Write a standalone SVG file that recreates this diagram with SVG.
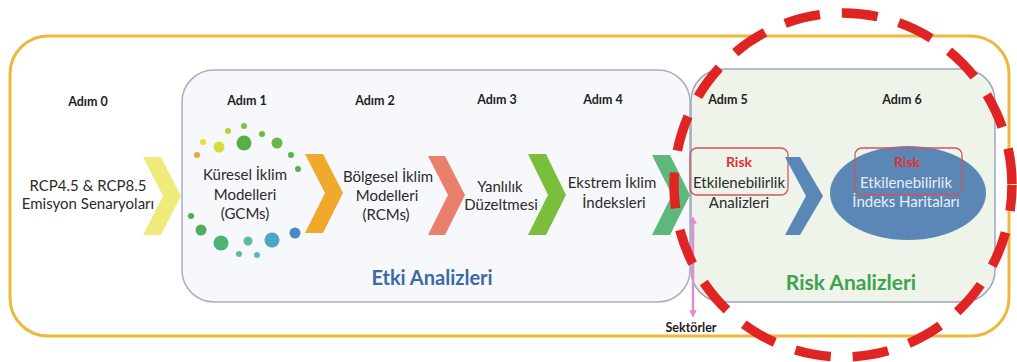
<svg xmlns="http://www.w3.org/2000/svg" width="1017" height="362" viewBox="0 0 1017 362">
  <style>
    .step { font-family: Lato, "Liberation Sans", sans-serif; font-weight: bold; font-size: 12.5px; fill: #1e1e1e; text-anchor: middle; }
    .body { font-family: Lato, "Liberation Sans", sans-serif; font-size: 15px; fill: #2b2b2b; text-anchor: middle; }
    .risk { font-family: Lato, "Liberation Sans", sans-serif; font-weight: bold; font-size: 14px; fill: #e03232; text-anchor: middle; }
    .light { fill: #e8eef6; }
    .title { font-family: Lato, "Liberation Sans", sans-serif; font-weight: bold; text-anchor: middle; }
    .tag { fill: none; stroke: #d4545c; stroke-width: 1.3; }
  </style>
  <defs>
    <marker id="pinkHead" viewBox="0 0 10 10" refX="5" refY="5" markerWidth="3" markerHeight="3" orient="auto-start-reverse">
      <path d="M0,0 L10,5 L0,10 z" fill="#da8fd0"/>
    </marker>
  </defs>

  <rect width="1017" height="362" fill="#ffffff"/>

  <!-- outer frame -->
  <rect id="frame" x="10" y="36" width="999" height="300" rx="38" fill="none" stroke="#edb83c" stroke-width="3"/>

  <!-- impact analysis panel -->
  <g id="etki-panel">
    <rect x="182" y="70" width="508" height="232" rx="32" fill="#f6f8fc" stroke="#a9aec0" stroke-width="1.5"/>
    <text class="title" x="432" y="285" font-size="20" fill="#3a6aa8">Etki Analizleri</text>
  </g>

  <!-- risk analysis panel -->
  <g id="risk-panel">
    <rect x="691" y="69" width="304" height="233" rx="32" fill="#eef4ea" stroke="#a0a6bc" stroke-width="1.5"/>
    <text class="title" x="851" y="290" font-size="21" fill="#3fa34d">Risk Analizleri</text>
  </g>

  <!-- step 0 -->
  <g id="step0">
    <text class="step" x="88" y="106">Adım 0</text>
    <text class="body" x="88" y="191" font-size="13.5">RCP4.5 &amp; RCP8.5</text>
    <text class="body" x="88" y="209" font-size="13.5">Emisyon Senaryoları</text>
  </g>

  <!-- step 1 -->
  <g id="step1">
    <text class="step" x="247" y="105">Adım 1</text>
    <g id="gcm-dots">
      <circle cx="244" cy="126" r="3" fill="#7dc242"/>
      <circle cx="228" cy="131" r="3" fill="#b5d334"/>
      <circle cx="262" cy="134" r="3" fill="#6cbb45"/>
      <circle cx="244" cy="143" r="7.5" fill="#5aaf44"/>
      <circle cx="219" cy="147" r="5.5" fill="#d6dc3a"/>
      <circle cx="203" cy="142" r="3" fill="#e9de3c"/>
      <circle cx="277" cy="143" r="5.5" fill="#6db548"/>
      <circle cx="197" cy="155" r="3" fill="#eda63a"/>
      <circle cx="291" cy="155" r="3" fill="#5db24b"/>
      <circle cx="298" cy="169" r="3" fill="#55b04e"/>
      <circle cx="191" cy="216" r="3" fill="#4fae53"/>
      <circle cx="201" cy="230" r="5.5" fill="#4daf5c"/>
      <circle cx="221" cy="243" r="7.5" fill="#4db273"/>
      <circle cx="239" cy="254" r="3" fill="#5dbba0"/>
      <circle cx="248" cy="241" r="4.5" fill="#5abba5"/>
      <circle cx="257" cy="255" r="3" fill="#60b8b5"/>
      <circle cx="272" cy="240" r="7.5" fill="#4ba6c2"/>
      <circle cx="295" cy="233" r="5.5" fill="#4a8cbf"/>
    </g>
    <text class="body" x="245" y="180">Küresel İklim</text>
    <text class="body" x="245" y="200">Modelleri</text>
    <text class="body" x="245" y="219">(GCMs)</text>
  </g>

  <!-- step 2 -->
  <g id="step2">
    <text class="step" x="375" y="105">Adım 2</text>
    <text class="body" x="388" y="182">Bölgesel İklim</text>
    <text class="body" x="387" y="201">Modelleri</text>
    <text class="body" x="386" y="220">(RCMs)</text>
  </g>

  <!-- step 3 -->
  <g id="step3">
    <text class="step" x="497" y="104">Adım 3</text>
    <text class="body" x="500" y="192">Yanlılık</text>
    <text class="body" x="501" y="210">Düzeltmesi</text>
  </g>

  <!-- step 4 -->
  <g id="step4">
    <text class="step" x="603" y="104">Adım 4</text>
    <text class="body" x="612" y="188">Ekstrem İklim</text>
    <text class="body" x="614" y="208">İndeksleri</text>
  </g>

  <!-- step 5 -->
  <g id="step5">
    <text class="step" x="728" y="104">Adım 5</text>
    <rect class="tag" x="690" y="148" width="98" height="47" rx="7"/>
    <text class="risk" x="739" y="167">Risk</text>
    <text class="body" x="739" y="188">Etkilenebilirlik</text>
    <text class="body" x="739" y="208">Analizleri</text>
  </g>

  <!-- step 6 -->
  <g id="step6">
    <text class="step" x="902" y="104">Adım 6</text>
    <ellipse cx="908" cy="193" rx="78" ry="47" fill="#5b87b6"/>
    <rect class="tag" x="855" y="148" width="107" height="47" rx="7"/>
    <text class="risk" x="907" y="167">Risk</text>
    <text class="body light" x="906" y="188">Etkilenebilirlik</text>
    <text class="body light" x="906" y="207">İndeks Haritaları</text>
  </g>

  <!-- sector label -->
  <g id="sectors">
    <text class="step" x="691" y="332" font-size="12">Sektörler</text>
  </g>

  <!-- connectors: step chevrons and sector link -->
  <g id="connectors">
    <polygon points="143,157 161,157 181,196 161,235 143,235 163,196" fill="#efeb7a"/>
    <polygon points="305,154 323,154 343,193 323,233 305,233 325,193" fill="#efaa2c"/>
    <polygon points="428,156 445,156 465,195 445,235 428,235 448,195" fill="#e8806c"/>
    <polygon points="528,154 546,154 566,195 546,235 528,235 548,195" fill="#7bbe3c"/>
    <polygon points="652,155 670,155 690,195 670,235 652,235 672,195" fill="#5db87c"/>
    <polygon points="785,157 800,157 823,196 800,235 785,235 806,196" fill="#5b87b6"/>
    <line x1="693" y1="220" x2="693" y2="314" stroke="#da8fd0" stroke-width="2.5" marker-start="url(#pinkHead)" marker-end="url(#pinkHead)"/>
  </g>

  <!-- highlight ring around the risk stage -->
  <ellipse id="highlight" cx="843" cy="185" rx="169" ry="172" fill="none" stroke="#e02424" stroke-width="9.5" stroke-dasharray="36 22" stroke-dashoffset="10"/>
</svg>
